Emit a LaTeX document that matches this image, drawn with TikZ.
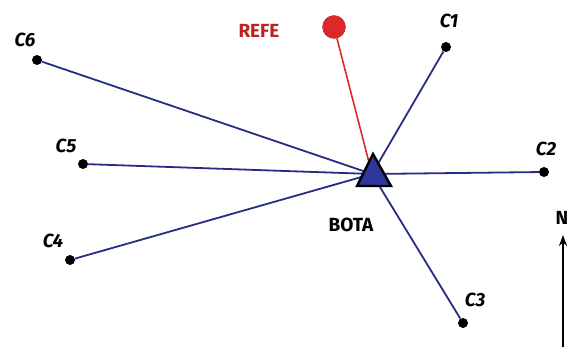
\documentclass[tikz,border=0pt]{standalone}
\usepackage{fontspec}
\newfontfamily\lblfont{Fira Sans}
\usetikzlibrary{arrows.meta}
\definecolor{navy}{RGB}{38,45,130}
\definecolor{trifill}{RGB}{45,55,155}
\definecolor{refred}{RGB}{220,40,40}
\tikzset{
  station/.style={circle,fill=black,inner sep=0pt,minimum size=10pt},
  clabel/.style={font=\lblfont\bfseries\itshape\fontsize{19}{19}\selectfont,text=black},
  plain/.style={font=\lblfont\bfseries\fontsize{19}{19}\selectfont},
  leg/.style={draw=navy,line width=1.8pt},
}
\begin{document}
\begin{tikzpicture}[x=1pt,y=-1pt]
\useasboundingbox (0,0) rectangle (572,347);
% central station
\coordinate (bota) at (372,174);
% outer points
\node[station] (c1) at (446,47) {};
\node[station] (c2) at (544,172) {};
\node[station] (c3) at (463,323) {};
\node[station] (c4) at (70,260) {};
\node[station] (c5) at (83,164) {};
\node[station] (c6) at (37,60) {};
\node[circle,fill=refred,draw=refred!90!black,inner sep=0pt,minimum size=23pt] (refe) at (334,27) {};
% labels
\node[clabel] at (449,21) {C1};
\node[clabel] at (546,149) {C2};
\node[clabel] at (475,300) {C3};
\node[clabel] at (53,241) {C4};
\node[clabel] at (66,146) {C5};
\node[clabel] at (25,40) {C6};
\node[plain,text=refred!85!black] at (259,31) {REFE};
\node[plain] at (351,225) {BOTA};
% legs
\draw[leg] (c1) -- (bota);
\draw[leg] (c2) -- (bota);
\draw[leg] (c3) -- (bota);
\draw[leg] (c4) -- (bota);
\draw[leg] (c5) -- (bota);
\draw[leg] (c6) -- (bota);
\draw[draw=refred,line width=1.6pt] (refe) -- (bota);
% station triangle
\filldraw[fill=trifill,draw=black,line width=2.4pt,line join=miter]
  (373,154) -- (391,186) -- (357,186) -- cycle;
% north arrow
\node[plain] (north) at (562,218) {N};
\coordinate (nbase) at (563,347);
\draw[line width=2.2pt,-{Stealth[length=11pt,width=8pt]}] (nbase) -- (563,235);
\end{tikzpicture}
\end{document}
